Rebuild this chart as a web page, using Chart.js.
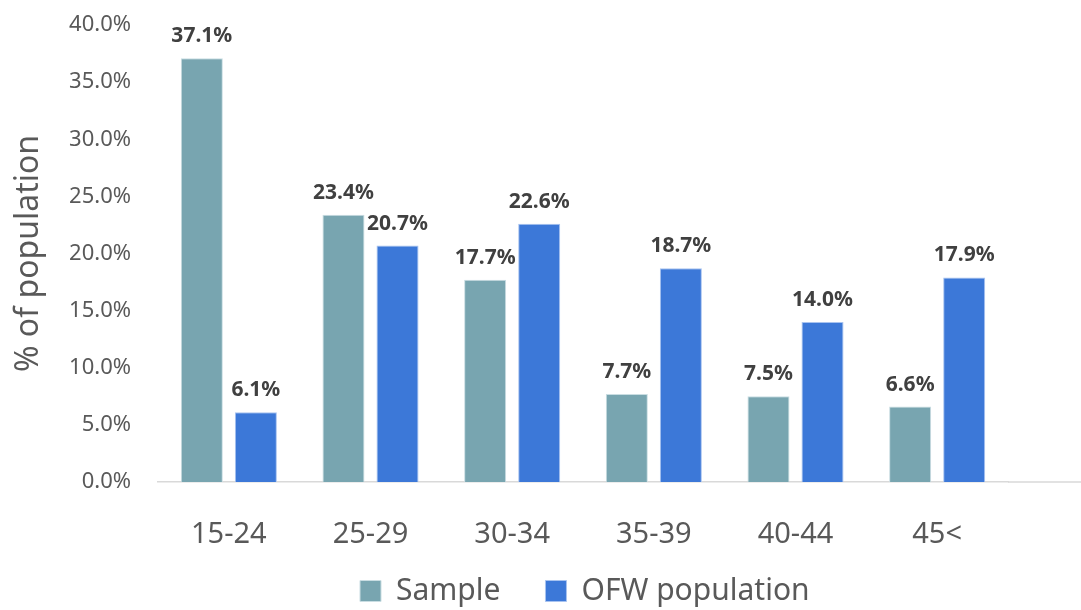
<!DOCTYPE html>
<html><head><meta charset="utf-8">
<script src="https://cdn.jsdelivr.net/npm/chart.js@4.4.0/dist/chart.umd.min.js"></script>
<style>html,body{margin:0;padding:0;background:#fff;}#wrap{width:1081px;height:610px;}</style>
</head><body><div id="wrap"><canvas id="c" width="1081" height="610"></canvas></div>
<script>
const categories = ['15-24', '25-29', '30-34', '35-39', '40-44', '45<'];
const sampleValues = [37.1, 23.4, 17.7, 7.7, 7.5, 6.6];
const ofwValues = [6.1, 20.7, 22.6, 18.7, 14.0, 17.9];
const seriesNames = ['Sample', 'OFW population'];
const yMin = 0, yMax = 40, yStep = 5;
const yAxisTitle = '% of population';

const FONT = "'Noto Sans', 'DejaVu Sans', sans-serif";
const fmt = v => v.toFixed(1) + '%';

const barLabels = {
  id: 'barLabels',
  afterDatasetsDraw(chart) {
    const ctx = chart.ctx;
    ctx.save();
    ctx.font = 'bold 21px ' + FONT;
    ctx.fillStyle = '#404040';
    ctx.textAlign = 'center';
    ctx.textBaseline = 'alphabetic';
    chart.data.datasets.forEach((ds, i) => {
      chart.getDatasetMeta(i).data.forEach((bar, j) => {
        ctx.fillText(fmt(ds.data[j]), bar.x, bar.y - 16);
      });
    });
    ctx.restore();
  }
};

const axisExtend = {
  id: 'axisExtend',
  afterDatasetsDraw(chart) {
    const x = chart.scales.x;
    const ctx = chart.ctx;
    ctx.save();
    ctx.strokeStyle = x.options.border.color;
    ctx.lineWidth = x.options.border.width;
    ctx.beginPath();
    ctx.moveTo(chart.chartArea.right, x.top);
    ctx.lineTo(chart.width, x.top);
    ctx.stroke();
    ctx.restore();
  }
};

const legendPlace = {
  id: 'legendPlace',
  afterLayout(chart) {
    const lg = chart.legend;
    const p = lg.options.labels.padding;
    const start = (lg.left + p + lg.right - lg.lineWidths[0]) / 2;
    const dx = 360 - start;
    const newTop = 591 - 15 - p;
    lg.left += dx; lg.right += dx;
    lg.top = newTop;
    lg.bottom = chart.height;
    lg.height = lg.bottom - lg.top;
  }
};

new Chart(document.getElementById('c'), {
  type: 'bar',
  data: {
    labels: categories,
    datasets: [
      { label: seriesNames[0], data: sampleValues, backgroundColor: '#78A5B0', borderColor: '#C9DDE2', borderWidth: 1 },
      { label: seriesNames[1], data: ofwValues, backgroundColor: '#3C78D8', borderColor: '#A8C3F0', borderWidth: 1 }
    ]
  },
  options: {
    responsive: false,
    devicePixelRatio: 1,
    animation: false,
    layout: { padding: { left: 6, right: 73, top: 25, bottom: 0 } },
    datasets: { bar: { categoryPercentage: 0.763, barPercentage: 0.778 } },
    plugins: {
      tooltip: { enabled: false },
      legend: {
        position: 'bottom',
        maxHeight: 50,
        labels: {
          boxWidth: 21, boxHeight: 21, padding: 45,
          color: '#595959',
          font: { family: FONT, size: 30 }
        }
      }
    },
    scales: {
      x: {
        grid: { display: false, drawTicks: false },
        border: { display: true, color: '#D9D9D9', width: 1.5 },
        ticks: { color: '#595959', font: { family: FONT, size: 29 }, padding: 35 },
        afterFit(scale) { scale.height = 610 - 482 - 50; }
      },
      y: {
        min: yMin, max: yMax,
        grid: { display: false, drawTicks: false },
        border: { display: false },
        ticks: {
          stepSize: yStep,
          color: '#595959',
          font: { family: FONT, size: 22 },
          padding: 27,
          callback: v => fmt(v)
        },
        title: {
          display: true, text: yAxisTitle, color: '#595959',
          font: { family: FONT, size: 32 },
          padding: { top: 4, bottom: 4 }
        },
        afterFit(scale) {
          scale.width = 158 - 6;
          scale.paddingTop = 0;
          scale.paddingBottom = 0;
        }
      }
    }
  },
  plugins: [barLabels, axisExtend, legendPlace]
});
</script></body></html>
